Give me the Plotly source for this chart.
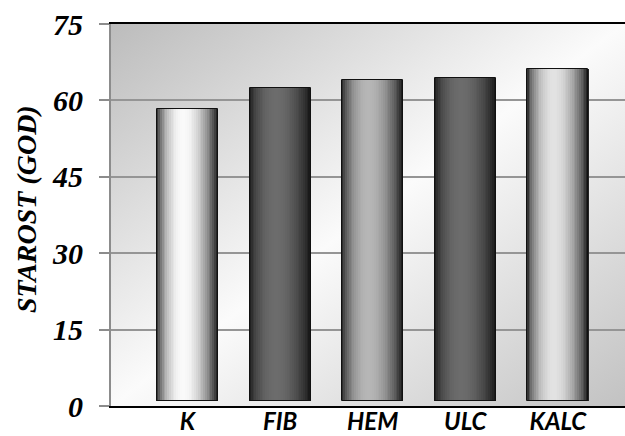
import base64
import math
import plotly.graph_objects as go

# Data
categories = ["K", "FIB", "HEM", "ULC", "KALC"]
age_years = [58.3, 62.4, 64.0, 64.4, 66.1]
y_ticks = [0, 15, 30, 45, 60, 75]

# Styling: centre brightness of each cylinder-shaded bar (edges go dark)
center_gray = [250, 108, 182, 108, 226]
edge_gray = 18
floor = 0.9          # bars stand on a slightly raised floor
bar_width = 0.66
n_strips = 34

fig = go.Figure()

def shade(t, c):
    # skew the highlight slightly left of centre
    tt = t ** (math.log(0.5) / math.log(0.44))
    f = math.sin(math.pi * tt) ** 0.75
    v = int(round(edge_gray + (c - edge_gray) * f))
    return f"rgb({v},{v},{v})"

heights = [v - floor for v in age_years]
strip_w = bar_width / n_strips
for k in range(n_strips):
    t = (k + 0.5) / n_strips
    fig.add_trace(go.Bar(
        x=categories, y=heights, base=floor,
        width=strip_w * 1.08, offset=-bar_width / 2 + k * strip_w,
        marker=dict(color=[shade(t, c) for c in center_gray], line=dict(width=0)),
        hoverinfo="skip", showlegend=False,
    ))

# thin dark outline around each bar
fig.add_trace(go.Bar(
    x=categories, y=heights, base=floor, width=bar_width,
    marker=dict(color="rgba(0,0,0,0)", line=dict(color="#111111", width=1)),
    hoverinfo="skip", showlegend=False,
))

# diagonal grey-white-grey background for the plot area
svg = (
    '<svg xmlns="http://www.w3.org/2000/svg" width="100" height="100" '
    'preserveAspectRatio="none" viewBox="0 0 100 100">'
    '<defs><linearGradient id="g" x1="0" y1="0" x2="1" y2="1">'
    '<stop offset="0" stop-color="#bcbcbc"/>'
    '<stop offset="0.5" stop-color="#fbfbfb"/>'
    '<stop offset="1" stop-color="#c2c2c2"/>'
    '</linearGradient></defs>'
    '<rect width="100" height="100" fill="url(#g)"/></svg>'
)
bg_uri = "data:image/svg+xml;base64," + base64.b64encode(svg.encode()).decode()

L, R, T, B = 111, 0, 24, 30
W, H = 625, 436
fig.update_layout(
    width=W, height=H,
    margin=dict(l=L, r=R, t=T, b=B, autoexpand=False),
    paper_bgcolor="white", plot_bgcolor="rgba(0,0,0,0)",
    barmode="overlay", bargap=0,
    images=[dict(source=bg_uri, xref="paper", yref="paper", x=0, y=1,
                 sizex=1, sizey=1, sizing="stretch", layer="below")],
    xaxis=dict(
        type="category", categoryorder="array", categoryarray=categories,
        range=[-0.826, 4.725], automargin=False,
        showline=True, linecolor="black", linewidth=2, mirror=True,
        showgrid=False, ticks="", ticklabelstandoff=-7,
        tickfont=dict(family="Lato", size=24, color="black",
                      weight="bold", style="italic"),
    ),
    yaxis=dict(
        range=[0, 75], tickvals=y_ticks, automargin=False,
        showline=True, linecolor="#8c8c8c", linewidth=2,
        showgrid=True, gridcolor="#959595", gridwidth=2,
        ticks="outside", ticklen=10, tickcolor="#8c8c8c", tickwidth=2,
        ticklabelstandoff=10,
        tickfont=dict(family="Liberation Serif", size=30, color="black",
                      weight="bold", style="italic"),
        zeroline=False,
    ),
    annotations=[dict(
        text="STAROST (GOD)", textangle=-90,
        xref="paper", yref="paper",
        x=-(L - 26) / (W - L - R), y=(406 - 209) / 382,
        xanchor="center", yanchor="middle", showarrow=False,
        font=dict(family="Liberation Serif", size=28, color="black",
                  weight="bold", style="italic"),
    )],
)

fig.write_html("out.html")
